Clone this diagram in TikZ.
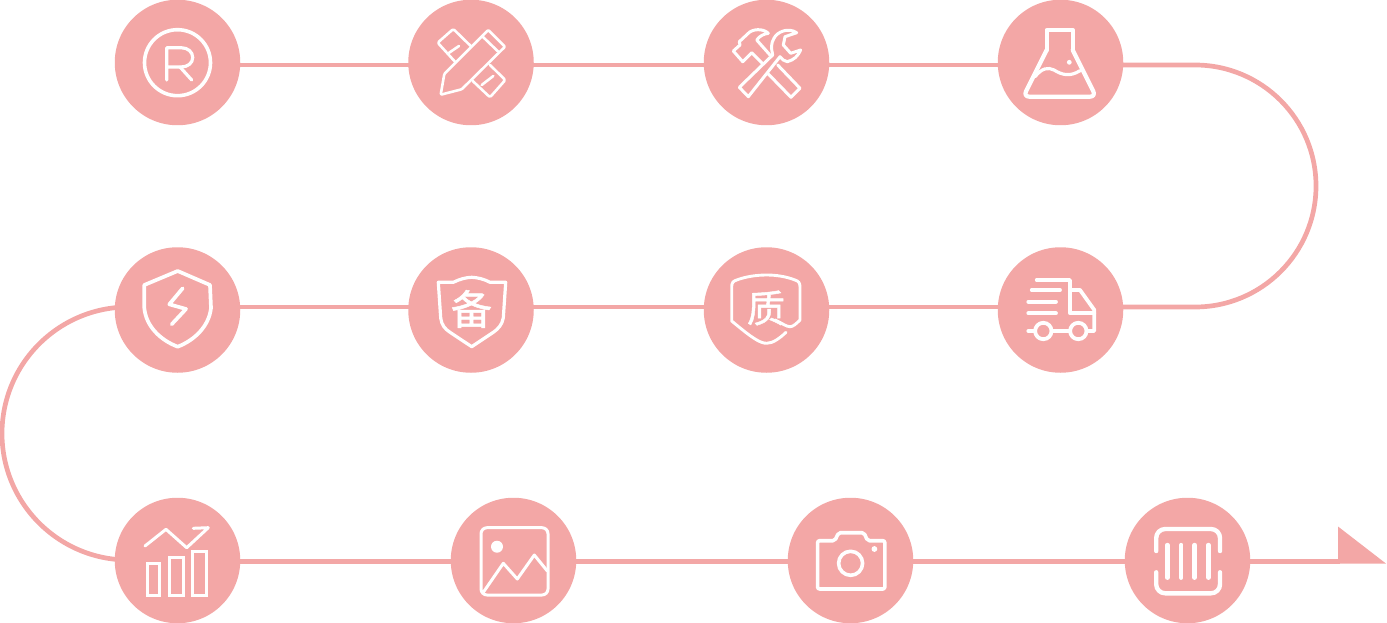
\documentclass[tikz,border=0pt]{standalone}
\usepackage{fontspec}
\newfontfamily\cjk[FakeBold=1.2]{Noto Sans CJK SC}
\usetikzlibrary{backgrounds}
\definecolor{pk}{HTML}{F3A7A6}
\tikzset{
  stop/.style={circle,fill=pk,draw=none,minimum size=125.5pt,inner sep=0pt},
  conn/.style={draw=pk,line width=4.7pt},
  ic/.style={draw=white,line width=#1,line cap=round,line join=round},
  ic/.default=2.6pt,
  glyph/.style={text=white,inner sep=0pt,font=\cjk\fontsize{#1}{#1}\selectfont}
}
\begin{document}
\begin{tikzpicture}[x=1pt,y=-1pt]
\useasboundingbox (0,0) rectangle (1387,623);
% stops
\node[stop] (a) at (177.5,62.5) {};
\node[stop] (b) at (471,62.5) {};
\node[stop] (c) at (766.5,62.5) {};
\node[stop] (d) at (1060.5,62.5) {};
\node[stop] (e) at (177.5,310) {};
\node[stop] (f) at (471,310) {};
\node[stop] (g) at (766.5,310) {};
\node[stop] (h) at (1060.5,310) {};
\node[stop] (i) at (177.5,560.5) {};
\node[stop] (j) at (513.5,560.5) {};
\node[stop] (k) at (850.5,560.5) {};
\node[stop] (l) at (1187.5,560.5) {};
\coordinate (tip) at (1386,563.6);
% connectors
\begin{pgfonlayer}{background}
\draw[conn] ([yshift=-2.5pt]a.center) -- ([yshift=-2.5pt]b.center);
\draw[conn] ([yshift=-2.5pt]b.center) -- ([yshift=-2.5pt]c.center);
\draw[conn] ([yshift=-2.5pt]c.center) -- ([yshift=-2.5pt]d.center);
\draw[conn] ([yshift=-2.5pt]d.center) -- ++(134.5,0) arc[start angle=-90,end angle=90,radius=121] -- ([yshift=3pt]h.center);
\draw[conn] ([yshift=3pt]h.center) -- ([yshift=3pt]g.center);
\draw[conn] ([yshift=3pt]g.center) -- ([yshift=3pt]f.center);
\draw[conn] ([yshift=3pt]f.center) -- ([yshift=3pt]e.center);
\draw[conn] ([yshift=3pt]e.center) -- ++(-49,0) arc[start angle=-90,end angle=-270,radius=126.5] -- (i.center);
\draw[conn] ([yshift=-0.9pt]i.center) -- ([yshift=-0.9pt]j.center);
\draw[conn] ([yshift=-0.9pt]j.center) -- ([yshift=-0.9pt]k.center);
\draw[conn] ([yshift=-0.9pt]k.center) -- ([yshift=-0.9pt]l.center);
\draw[conn] ([yshift=-0.9pt]l.center) -- (1340,561.4);
\end{pgfonlayer}
\fill[pk] (1338,526.5) -- (tip) -- (1338,563.6) -- cycle;
% R
\draw[ic=3.6pt] (177.5,62.7) circle[radius=33];
\draw[ic=3.2pt] (166.7,80) -- (166.7,47.7) -- (181,47.7) .. controls (188,47.7) and (192.7,52) .. (192.7,57.5) .. controls (192.7,63) and (188,67) .. (181,67) -- (166.7,67);
\draw[ic=3.2pt] (180,67) -- (191.7,80);
% pencil + ruler
\begin{scope}[ic=2.6pt]
\draw[rounded corners=1.5pt] (470.7,46) -- (453.3,29) -- (437.7,42.7) -- (455,61.7);
\draw[rounded corners=1.5pt] (490,65) -- (505.3,80) -- (490,97.3) -- (472.7,81);
\draw (448.3,53.3) -- (459,46);
\draw (481.7,85) -- (493.3,76);
\draw[rounded corners=1pt] (440.7,94.7) -- (444.3,74) -- (488.3,30) -- (505,46.7) -- (461.7,89.3) -- cycle;
\draw (482.7,36.7) -- (498.3,51.7);
\end{scope}
% hammer + wrench
\begin{scope}[ic=3pt]
\draw (748.3,96.7) -- (739.3,87.3) -- (772.7,55) .. controls (771,48) and (771,43) .. (774,38.3) .. controls (777,32) and (788,27) .. (796.7,32.7) -- (785,36.7) -- (783.3,45) -- (790.7,53.3) -- (800.7,50) .. controls (798,56) and (794,60) .. (787.3,61.7) .. controls (784,61.5) and (782,59) .. (780,56.7) -- cycle;
\draw (777.7,65) -- (800,88.3) -- (791,97.3) -- (768.3,74);
\draw (762.3,63.3) -- (751.7,52.7) -- (742.7,61.7) -- (733.3,51) -- (740,45) -- (739.3,41.7) -- (748.3,33.3) .. controls (752,29) and (763,28) .. (768.3,33.3) .. controls (764,34) and (760,35.5) .. (756.7,40) -- (770,55);
\end{scope}
% flask
\begin{scope}[ic=4.2pt]
\draw[rounded corners=6pt] (1046.7,50) -- (1023.3,96.7) -- (1096,96.7) -- (1072.7,50);
\draw (1046.7,50) -- (1046.7,30) -- (1072.7,30) -- (1072.7,50);
\draw[line width=3.2pt] (1035,76.7) .. controls (1042,68) and (1048,67) .. (1054,70) .. controls (1062,75) and (1070,77) .. (1080,70.7);
\end{scope}
\fill[white] (1069.3,62.3) circle[radius=2.4];
% bolt shield
\begin{scope}[ic=3.7pt]
\draw (177.7,271) -- (210,285) -- (211,308) .. controls (209,326) and (195,340) .. (177.7,346.7) .. controls (160,340) and (146,326) .. (144.3,308) -- (144.3,285) -- cycle;
\draw (182.7,288.3) -- (169.3,304.3) -- (186,309) -- (171.7,324.3);
\end{scope}
% shield with glyph
\draw[ic=3.2pt] (438.3,282.3) -- (453.3,282.3) .. controls (460,279) and (466,277.5) .. (471.7,277.3) .. controls (477,277.5) and (484,279) .. (490,282.3) -- (505.7,282.3) -- (503.3,318) .. controls (502,325) and (498,329) .. (493.3,332.3) -- (471.7,346.7) -- (450,332.3) .. controls (445,329) and (441.5,325) .. (440.7,318) -- cycle;
\node[glyph=41] (bei) at (471.5,309) {备};
% shield with glyph
\draw[ic=2.9pt] (786,332.3) .. controls (780,338) and (773,343.3) .. (766.7,343.3) .. controls (760,343.3) and (752,338) .. (731.7,321) -- (731.7,286.7) .. controls (731.7,283) and (733,281) .. (736.7,280) .. controls (746,276.5) and (757,275) .. (766.7,275) .. controls (776,275) and (786,276.5) .. (795,280) .. controls (798.5,281) and (800,283) .. (800,286.7) -- (800,320) .. controls (796,324) and (793,326.7) .. (790,326.7) .. controls (786,326.7) and (782,323) .. (775,320);
\node[glyph=38] (zhi) at (766,308) {质};
% truck
\begin{scope}[ic=3.8pt]
\draw (1036.7,280) -- (1070,280) -- (1070,313.3) -- (1094.3,313.3);
\draw (1070,290) -- (1080,290) -- (1094.3,310) -- (1094.3,331) -- (1086.7,331);
\draw (1031.7,290) -- (1060,290);
\draw (1028.3,301.7) -- (1056,301.7);
\draw (1028.3,313.3) -- (1056,313.3);
\draw (1028.3,331) -- (1035,331);
\draw (1051.7,331) -- (1070,331);
\draw (1043.3,331) circle[radius=8.2];
\draw (1078.3,331) circle[radius=8.2];
\end{scope}
% chart
\begin{scope}[ic=3pt]
\draw (145,546) -- (166,529.3) -- (186.7,547.7) -- (208.3,527.7) -- (193.3,528.3);
\draw[line cap=butt,line join=miter] (147.7,563.3) rectangle (159.7,595);
\draw[line cap=butt,line join=miter] (169.3,557.3) rectangle (183.3,595);
\draw[line cap=butt,line join=miter] (192,551) rectangle (206.3,595);
\end{scope}
% picture
\begin{scope}[ic=3pt]
\draw[rounded corners=6pt] (481,527.7) rectangle (548,595);
\draw (483.3,592.3) -- (503.3,563.3) -- (517.3,579) -- (534.3,555) -- (547.3,571);
\end{scope}
\fill[white] (497,546.7) circle[radius=6];
% camera
\begin{scope}[ic=3.6pt]
\draw[rounded corners=2pt] (817.6,589) -- (817.6,540.7) -- (834.9,540.7) -- (838.5,532.7) -- (864,532.7) -- (867.5,540.7) -- (884.8,540.7) -- (884.8,589) -- cycle;
\draw (850.6,563.3) circle[radius=12];
\end{scope}
\fill[white] (874.4,549) circle[radius=2.9];
% barcode
\begin{scope}[ic=4.4pt]
\draw[rounded corners=9pt] (1156.2,551) -- (1156.2,529) -- (1220,529) -- (1220,551);
\draw[rounded corners=9pt] (1156.2,572.3) -- (1156.2,593.3) -- (1220,593.3) -- (1220,572.3);
\draw (1167.3,545) -- (1167.3,577.7);
\draw (1181.2,545) -- (1181.2,577.7);
\draw (1194.6,545) -- (1194.6,577.7);
\draw (1208.4,545) -- (1208.4,577.7);
\end{scope}
\end{tikzpicture}
\end{document}
